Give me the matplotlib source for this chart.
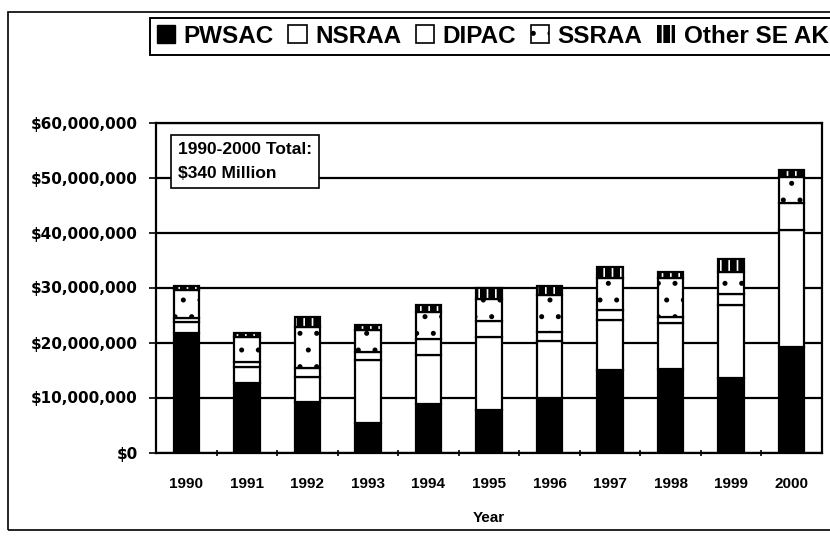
import numpy as np
import matplotlib
matplotlib.use("Agg")
import matplotlib.pyplot as plt
from matplotlib.patches import Patch, Rectangle
from matplotlib.ticker import FuncFormatter

years = ["1990", "1991", "1992", "1993", "1994", "1995",
         "1996", "1997", "1998", "1999", "2000"]
# values in millions of dollars
pwsac = [21.8, 12.6, 9.2, 5.4, 8.8, 7.7, 9.9, 15.0, 15.1, 13.5, 19.2]
nsraa = [2.0, 3.0, 4.5, 11.4, 8.9, 13.3, 10.3, 9.1, 8.4, 13.3, 21.2]
dipac = [0.6, 0.9, 1.7, 1.5, 3.0, 3.0, 1.8, 1.8, 1.2, 2.1, 4.9]
ssraa = [5.2, 4.5, 7.4, 3.9, 4.8, 3.9, 6.7, 5.8, 7.0, 3.9, 4.8]
other = [0.7, 0.7, 1.8, 0.9, 1.3, 2.1, 1.5, 2.0, 1.2, 2.4, 1.2]
series_names = ["PWSAC", "NSRAA", "DIPAC", "SSRAA", "Other SE AK"]

plt.rcParams['font.family'] = ['Liberation Sans', 'DejaVu Sans']
plt.rcParams['hatch.linewidth'] = 1.2

fig = plt.figure(figsize=(8.3, 5.36), dpi=100)
ax = fig.add_axes([156/830, 1 - 452.5/536, 666/830, 330/536])

x = np.arange(len(years))
w = 0.42
scale = 1e6
lw = 1.6

b0 = np.zeros(len(years))
ax.bar(x, np.array(pwsac)*scale, w, bottom=b0, color='black', edgecolor='black', lw=lw, zorder=3)
b0 = b0 + np.array(pwsac)*scale
ax.bar(x, np.array(nsraa)*scale, w, bottom=b0, color='white', edgecolor='black', lw=lw, zorder=3)
b0 = b0 + np.array(nsraa)*scale
ax.bar(x, np.array(dipac)*scale, w, bottom=b0, color='white', edgecolor='black', lw=lw, zorder=3)
b0 = b0 + np.array(dipac)*scale
ax.bar(x, np.array(ssraa)*scale, w, bottom=b0, color='white', edgecolor='black', hatch='.', lw=lw, zorder=3)
b0 = b0 + np.array(ssraa)*scale
# black cap with white stripes, then a black outline on top
ax.bar(x, np.array(other)*scale, w, bottom=b0, color='black', edgecolor='white', hatch='||', lw=0, zorder=3)
ax.bar(x, np.array(other)*scale, w, bottom=b0, fill=False, edgecolor='black', lw=lw, zorder=4)

ax.set_ylim(0, 60e6)
ax.set_xlim(-0.5, len(years) - 0.5)
ax.set_yticks(np.arange(0, 60e6 + 1, 10e6))
ax.yaxis.set_major_formatter(FuncFormatter(lambda v, p: "${:,.0f}".format(v)))
ax.grid(axis='y', color='black', lw=1.6, zorder=0)
ax.set_axisbelow(True)

ax.set_xticks(x)
ax.set_xticklabels(years)
ax.set_xticks(np.arange(0.5, len(years) - 0.5), minor=True)
ax.tick_params(axis='x', which='major', length=0, pad=18, labelsize=11)
ax.tick_params(axis='x', which='minor', length=4, width=1.2, direction='inout')
ax.tick_params(axis='y', length=5, width=1.2, pad=8)
for lab in ax.get_xticklabels():
    lab.set_fontweight('bold')
for lab in ax.get_yticklabels():
    lab.set_fontweight('bold')
    lab.set_fontfamily('DejaVu Sans')
    lab.set_fontsize(11)
for s in ax.spines.values():
    s.set_linewidth(1.6)
ax.set_xlabel("Year", fontsize=11, fontweight='bold', labelpad=14)

ax.text(0.033, 0.94, "1990-2000 Total:\n$340 Million", transform=ax.transAxes,
        fontsize=12.5, fontweight='bold', va='top', ha='left', linespacing=1.75,
        bbox=dict(boxstyle='square,pad=0.4', facecolor='white', edgecolor='black', lw=1.2),
        zorder=6)

handles = [
    Patch(facecolor='black', edgecolor='black'),
    Patch(facecolor='white', edgecolor='black', lw=1.2),
    Patch(facecolor='white', edgecolor='black', lw=1.2),
    Patch(facecolor='white', edgecolor='black', hatch='.', lw=1.2),
    Patch(facecolor='black', edgecolor='white', hatch='||', lw=0),
]
leg = fig.legend(handles, series_names, loc='upper left', bbox_to_anchor=(150/830, 1 - 18/536),
                 ncol=5, frameon=True, fancybox=False, edgecolor='black', framealpha=1,
                 handlelength=0.75, handleheight=0.75, handletextpad=0.35, columnspacing=0.6,
                 borderpad=0.28, borderaxespad=0,
                 prop={'weight': 'bold', 'size': 17.5})
leg.get_frame().set_linewidth(1.4)

# outer frame of the figure
fig.patches.append(Rectangle((8/830, 1 - 530/536), 1.0, (530 - 12)/536, transform=fig.transFigure,
                             fill=False, edgecolor='black', lw=1.2))

fig.savefig("out.png", dpi=100)
